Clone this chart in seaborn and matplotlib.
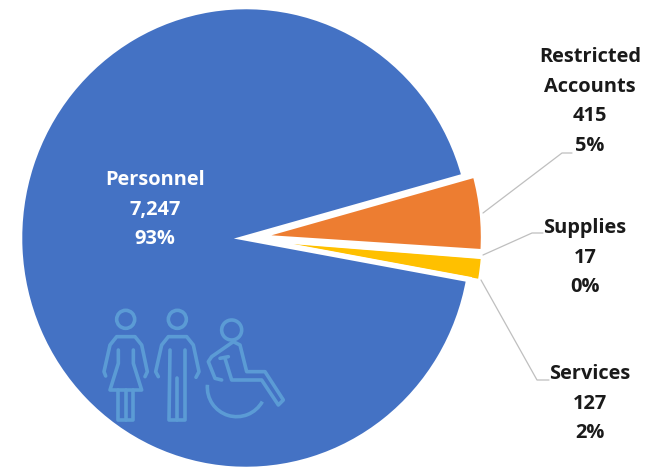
import matplotlib
matplotlib.use("Agg")
import matplotlib.pyplot as plt
from matplotlib.patches import Arc, Circle
import seaborn as sns

# Budget by category, listed anticlockwise starting from the lower right of the pie
categories = ["Services", "Supplies", "Restricted\nAccounts", "Personnel"]
amounts = [127, 17, 415, 7247]
shares = ["2%", "0%", "5%", "93%"]
colors = ["#FFC000", "#A5A5A5", "#ED7D31", "#4472C4"]
offsets = [0.048, 0.04, 0.048, 0]
edge_widths = [2.6, 2.8, 3.6, 4.0]

W, H = 655, 468
PIE_X, PIE_Y = 246, 238
PIE_RX, PIE_RY = 226.5, 231.5
LEADER = "#BFBFBF"
ICON = "#5B9BD5"

sns.set_theme(style="white")
plt.rcParams["font.family"] = ["Open Sans", "DejaVu Sans"]

fig = plt.figure(figsize=(W / 100, H / 100), dpi=100)

# The pie sits on its own axes so it can be slightly taller than wide
pie_ax = fig.add_axes([0, 0, 1, 1])
wedges, _ = pie_ax.pie(
    amounts,
    colors=colors,
    startangle=-10.3,
    counterclock=True,
    radius=1,
    explode=offsets,
    wedgeprops={"edgecolor": "white"},
    normalize=True,
)
for wedge, width in zip(wedges, edge_widths):
    wedge.set_linewidth(width)
pie_ax.set_aspect("auto")
pie_ax.set_xlim(-PIE_X / PIE_RX, (W - PIE_X) / PIE_RX)
pie_ax.set_ylim(-(H - PIE_Y) / PIE_RY, PIE_Y / PIE_RY)
pie_ax.axis("off")

# Overlay in pixel units for labels, leaders and the pictogram
ax = fig.add_axes([0, 0, 1, 1])
ax.set_xlim(0, W)
ax.set_ylim(0, H)
ax.axis("off")
ax.patch.set_alpha(0)


def label(x, y, lines, color="#1a1a1a"):
    """Stack the lines of a data label, y being the centre of the first line from the top."""
    for i, line in enumerate(lines):
        ax.text(x, H - (y + i * 29.7), line, ha="center", va="center",
                fontsize=14.4, fontweight="bold", color=color, zorder=6)


def label_lines(idx):
    return categories[idx].split("\n") + [f"{amounts[idx]:,}", shares[idx]]


label(155, 180, label_lines(3), color="white")
label(590, 57, label_lines(2))
label(585, 228, label_lines(1))
label(590, 374, label_lines(0))

# Leader lines from the slices out to their labels
for xs, ys in [
    ([483, 562, 572], [213, 153, 153]),
    ([483, 532, 543], [255, 233, 233]),
    ([481, 537, 549], [280, 380, 380]),
]:
    ax.plot(xs, [H - y for y in ys], color=LEADER, lw=0.9, zorder=3)


# Pictogram of three people, outlined on the large slice
def px(zx, zy):
    return 90 + zx / 3, H - (300 + zy / 3)


def stroke(points):
    pts = [px(*p) for p in points]
    ax.plot([p[0] for p in pts], [p[1] for p in pts], color=ICON, lw=2.6,
            solid_joinstyle="round", solid_capstyle="round", zorder=4)


def head(zx, zy, zr):
    ax.add_patch(Circle(px(zx, zy), zr / 3, fill=False, edgecolor=ICON, lw=2.6, zorder=4))


# woman
head(107, 58, 27)
stroke([(47, 228), (42, 215), (60, 135), (80, 110), (135, 110), (155, 135), (172, 215), (165, 230)])
stroke([(85, 150), (85, 190), (60, 270), (155, 270), (130, 190), (130, 150)])
stroke([(85, 270), (85, 360), (130, 360), (130, 270)])
stroke([(107, 270), (107, 360)])

# man
head(262, 58, 27)
stroke([(205, 230), (197, 215), (215, 135), (235, 110), (290, 110), (310, 135), (327, 215), (318, 232)])
stroke([(240, 150), (237, 360), (285, 360), (285, 150)])
stroke([(262, 235), (262, 360)])

# wheelchair user
head(425, 90, 30)
stroke([(430, 125), (365, 170), (355, 185), (375, 235), (395, 240)])
stroke([(390, 175), (415, 170)])
stroke([(405, 175), (425, 240), (515, 240), (565, 315), (580, 300), (525, 215),
        (470, 215), (450, 135), (430, 125)])
cx, cy = px(440, 262)
ax.add_patch(Arc((cx, cy), 2 * 88 / 3, 2 * 88 / 3, theta1=175, theta2=331,
                 edgecolor=ICON, lw=2.6, zorder=4))

fig.savefig("out.png", dpi=100, facecolor="white")
